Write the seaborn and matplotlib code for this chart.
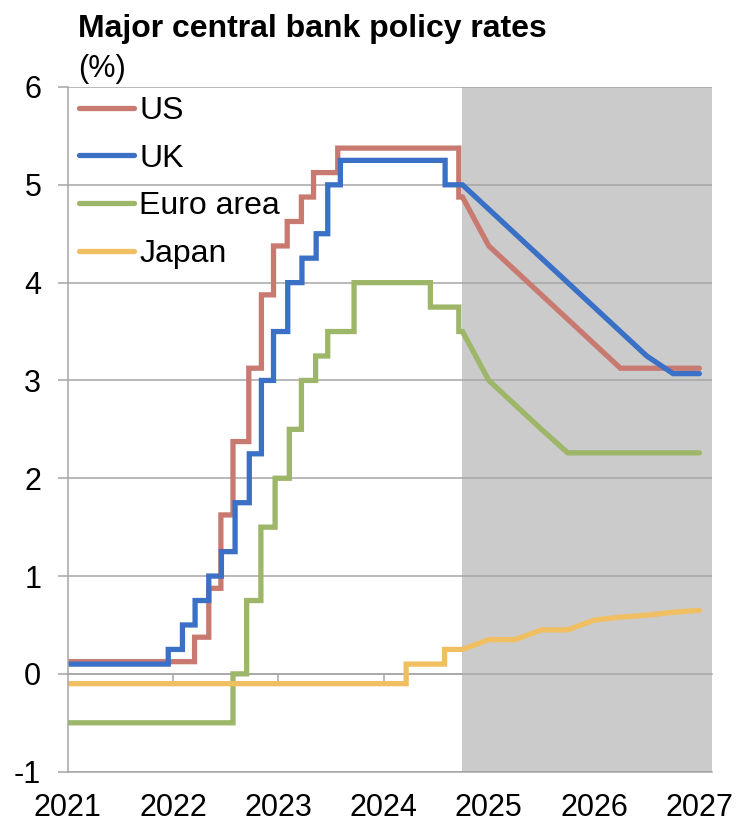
import matplotlib
matplotlib.use("Agg")
import matplotlib.pyplot as plt
import pandas as pd
import seaborn as sns

# ---- data -------------------------------------------------------------
series_names = ["US", "UK", "Euro area", "Japan"]
series_colors = ["#C97A70", "#3A70C6", "#9DB668", "#F0BF62"]

year_ticks = [2021, 2022, 2023, 2024, 2025, 2026, 2027]
rate_ticks = [-1, 0, 1, 2, 3, 4, 5, 6]

forecast_start = 2024.75

# policy-rate decisions: effective date (decimal year) and new level (%)
us_change_dates = [2021.0, 2022.205, 2022.34, 2022.455, 2022.57, 2022.72, 2022.84,
                   2022.955, 2023.085, 2023.22, 2023.335, 2023.565, 2024.715]
us_change_rates = [0.125, 0.375, 0.875, 1.625, 2.375, 3.125, 3.875,
                   4.375, 4.625, 4.875, 5.125, 5.375, 4.875]

uk_change_dates = [2021.0, 2021.955, 2022.09, 2022.21, 2022.34, 2022.46, 2022.59,
                   2022.725, 2022.84, 2022.955, 2023.09, 2023.225, 2023.36, 2023.47,
                   2023.59, 2024.585]
uk_change_rates = [0.1, 0.25, 0.5, 0.75, 1.0, 1.25, 1.75,
                   2.25, 3.0, 3.5, 4.0, 4.25, 4.5, 5.0,
                   5.25, 5.0]

euro_change_dates = [2021.0, 2022.57, 2022.70, 2022.835, 2022.97, 2023.105, 2023.22,
                     2023.355, 2023.47, 2023.72, 2024.445, 2024.715]
euro_change_rates = [-0.5, 0.0, 0.75, 1.5, 2.0, 2.5, 3.0,
                     3.25, 3.5, 4.0, 3.75, 3.5]

japan_change_dates = [2021.0, 2024.215, 2024.58]
japan_change_rates = [-0.1, 0.1, 0.25]

# market-implied paths, quarterly
forecast_dates = [2024.75, 2025.0, 2025.25, 2025.5, 2025.75, 2026.0, 2026.25, 2026.5, 2026.75, 2027.0]
us_forecast = [4.875, 4.375, 4.125, 3.875, 3.625, 3.375, 3.125, 3.125, 3.125, 3.125]
uk_forecast = [5.0, 4.75, 4.5, 4.25, 4.0, 3.75, 3.5, 3.25, 3.07, 3.07]
euro_forecast = [3.5, 3.0, 2.75, 2.5, 2.26, 2.26, 2.26, 2.26, 2.26, 2.26]
japan_forecast = [0.25, 0.35, 0.35, 0.45, 0.45, 0.55, 0.58, 0.60, 0.63, 0.65]


def rate_path(change_dates, change_rates, fc_dates, fc_rates):
    """Step path through the decisions, then the linear forecast path."""
    xs, ys = [], []
    for i, (d, r) in enumerate(zip(change_dates, change_rates)):
        if i > 0:
            xs.append(d)
            ys.append(change_rates[i - 1])
        xs.append(d)
        ys.append(r)
    xs += list(fc_dates)
    ys += list(fc_rates)
    return xs, ys


frames = []
for name, cd, cr, fr in [
    ("US", us_change_dates, us_change_rates, us_forecast),
    ("UK", uk_change_dates, uk_change_rates, uk_forecast),
    ("Euro area", euro_change_dates, euro_change_rates, euro_forecast),
    ("Japan", japan_change_dates, japan_change_rates, japan_forecast),
]:
    xs, ys = rate_path(cd, cr, forecast_dates, fr)
    frames.append(pd.DataFrame({"year": xs, "rate": ys, "bank": name}))
df = pd.concat(frames, ignore_index=True)

# ---- style ------------------------------------------------------------
sns.set_style("white")
plt.rcParams["font.family"] = ["Liberation Sans", "DejaVu Sans"]
plt.rcParams["text.color"] = "black"

grid_color = "#A6A6A6"
W, H, DPI = 737, 824, 100
fig = plt.figure(figsize=(W / DPI, H / DPI), dpi=DPI)

left, right, top, bottom = 67.7, 712.0, 87.0, 771.7
ax = fig.add_axes([left / W, 1 - bottom / H, (right - left) / W, (bottom - top) / H])

xmin, xmax = 2021.0, 2027.12
ymin, ymax = -1, 6

ax.axvspan(forecast_start, xmax, color="#CBCBCB", lw=0, zorder=0.2)

sns.lineplot(data=df, x="year", y="rate", hue="bank", hue_order=series_names,
             palette=series_colors, sort=False, estimator=None, linewidth=3.8,
             ax=ax)
for line in ax.get_lines():
    line.set_solid_capstyle("round")
    line.set_solid_joinstyle("miter")

ax.set_xlim(xmin, xmax)
ax.set_ylim(ymin, ymax)
ax.set_yticks(rate_ticks)
ax.set_yticklabels([str(t) for t in rate_ticks])
ax.set_xticks(year_ticks)
ax.set_xticklabels([str(t) for t in year_ticks])
ax.set_xlabel("")
ax.set_ylabel("")

ax.set_axisbelow(True)
ax.yaxis.grid(True, color=grid_color, lw=1.1, zorder=0.5)
ax.xaxis.grid(False)
for s in ["top", "right"]:
    ax.spines[s].set_visible(False)
for s in ["left", "bottom"]:
    ax.spines[s].set_color(grid_color)
    ax.spines[s].set_linewidth(1.1)

tick_fs = 22
ax.tick_params(axis="y", left=True, length=7, width=1.1, color=grid_color,
               pad=12, labelsize=tick_fs, labelcolor="black")
ax.tick_params(axis="x", bottom=False, length=0, pad=15, labelsize=tick_fs,
               labelcolor="black")

# year tick marks sit on the zero line
zero_loc = (0 - ymin) / (ymax - ymin)
sec = ax.secondary_xaxis(zero_loc)
sec.set_xticks(year_ticks[1:])
sec.tick_params(axis="x", direction="out", length=7, width=1.1, color=grid_color,
                labelbottom=False, labeltop=False)
sec.spines["bottom"].set_color(grid_color)
sec.spines["bottom"].set_linewidth(1.1)

leg = ax.legend(loc="upper left", bbox_to_anchor=(11.3 / (right - left), 1 - 9.0 / (bottom - top)),
                frameon=False, fontsize=23, handlelength=1.72, handletextpad=0.16,
                labelspacing=0.55, borderaxespad=0, borderpad=0, labelcolor="black")
for h in leg.get_lines():
    h.set_linewidth(3.8)
    h.set_solid_capstyle("round")

fig.text(78.5 / W, 1 - 36.5 / H, "Major central bank policy rates", fontsize=23,
         fontweight="bold", ha="left", va="baseline", color="black")
fig.text(78 / W, 1 - 77.5 / H, "(%)", fontsize=22, ha="left", va="baseline",
         color="black")

fig.savefig("out.png", dpi=DPI)
